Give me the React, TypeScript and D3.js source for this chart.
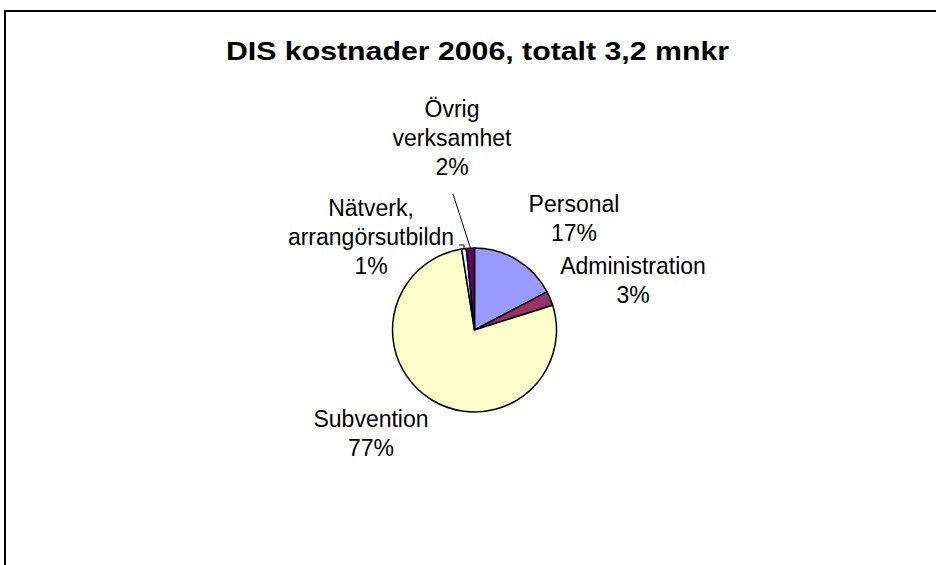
import {useEffect, useRef} from 'react';
import * as d3 from 'd3';

// DIS kostnader 2006 (tkr)
const categories = ['Personal', 'Administration', 'Subvention', 'Nätverk, arrangörsutbildn', 'Övrig verksamhet'];
const values = [554, 90, 2477, 29, 51];
const colors = ['#9999FF', '#993366', '#FFFFCC', '#CCFFFF', '#660066'];
const labelLines = [['Personal'], ['Administration'], ['Subvention'], ['Nätverk,', 'arrangörsutbildn'], ['Övrig', 'verksamhet']];
const title = 'DIS kostnader 2006, totalt 3,2 mnkr';

// label placement (center x, first baseline)
const labelPos = [
    [574, 212],
    [633, 274],
    [371, 427],
    [371, 216],
    [452, 117],
];

export default function App() {
    const ref = useRef(null);

    useEffect(() => {
        const width = 936;
        const height = 565;
        const cx = 474.5;
        const cy = 330;
        const r = 82;
        const lineH = 29;
        const font = '"Liberation Sans", Arial, sans-serif';

        const svg = d3.select(ref.current);
        svg.selectAll('*').remove();
        svg.attr('width', width).attr('height', height);

        svg.append('rect').attr('width', width).attr('height', height).attr('fill', '#fff');

        // chart frame (runs off the right/bottom edge)
        svg
            .append('rect')
            .attr('x', 5)
            .attr('y', 11)
            .attr('width', width + 20)
            .attr('height', height + 20)
            .attr('fill', 'none')
            .attr('stroke', '#000')
            .attr('stroke-width', 2);

        svg
            .append('text')
            .attr('x', 477.5)
            .attr('y', 60)
            .attr('text-anchor', 'middle')
            .attr('font-family', font)
            .attr('font-weight', 'bold')
            .attr('font-size', 25)
            .attr('textLength', 503)
            .attr('lengthAdjust', 'spacingAndGlyphs')
            .text(title);

        const total = d3.sum(values);
        const data = categories.map((c, i) => ({name: c, value: values[i], i}));

        const pie = d3
            .pie()
            .sort(null)
            .value((d) => d.value);
        const arcs = pie(data);
        const arc = d3.arc().innerRadius(0).outerRadius(r);

        const g = svg.append('g').attr('transform', `translate(${cx},${cy})`);
        g.selectAll('path')
            .data(arcs)
            .enter()
            .append('path')
            .attr('d', arc)
            .attr('fill', (d) => colors[d.data.i])
            .attr('stroke', '#000')
            .attr('stroke-width', 1.5)
            .attr('stroke-linejoin', 'round');

        // edge point of a slice (middle angle, on the rim)
        const rim = (d) => {
            const a = (d.startAngle + d.endAngle) / 2;
            return [cx + r * Math.sin(a), cy - r * Math.cos(a)];
        };

        // leader lines for the two small slices
        const pNat = rim(arcs[3]);
        svg
            .append('polyline')
            .attr('points', `459,245 464,245 ${pNat[0]},${pNat[1]}`)
            .attr('fill', 'none')
            .attr('stroke', '#000')
            .attr('stroke-width', 1);
        const pOvr = rim(arcs[4]);
        svg
            .append('line')
            .attr('x1', 453)
            .attr('y1', 194)
            .attr('x2', pOvr[0])
            .attr('y2', pOvr[1])
            .attr('stroke', '#000')
            .attr('stroke-width', 1);

        // labels
        arcs.forEach((d) => {
            const i = d.data.i;
            const [lx, ly] = labelPos[i];
            const lines = [...labelLines[i], `${Math.round((d.data.value / total) * 100)}%`];
            const t = svg
                .append('text')
                .attr('text-anchor', 'middle')
                .attr('font-family', font)
                .attr('font-size', 23)
                .attr('fill', '#000');
            lines.forEach((s, k) => {
                t.append('tspan').attr('x', lx).attr('y', ly + k * lineH).text(s);
            });
        });
    }, []);

    return <svg ref={ref} style={{position: 'absolute', left: 0, top: 0, display: 'block'}}></svg>;
}
